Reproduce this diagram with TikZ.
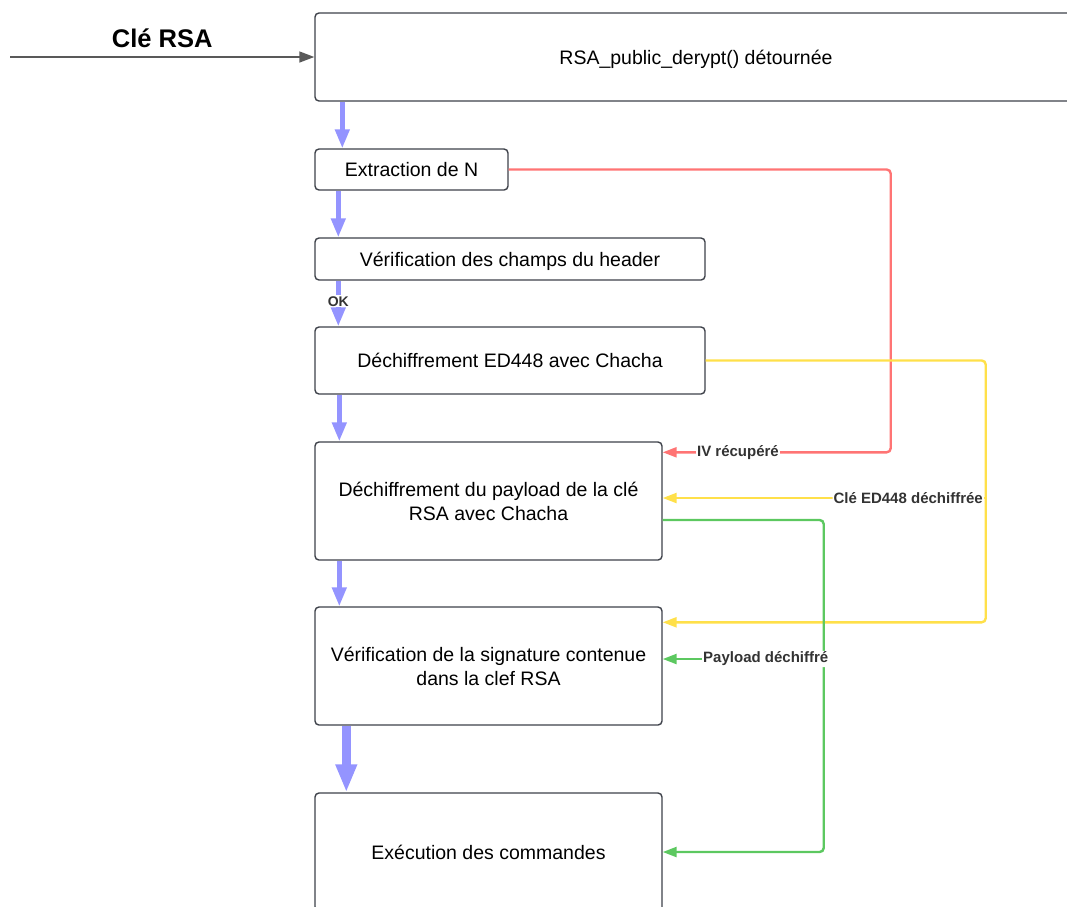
\documentclass[tikz,border=0pt]{standalone}
\usepackage{fontspec}
\setmainfont{Liberation Sans}
\usetikzlibrary{arrows.meta,positioning,calc}
\definecolor{flow}{HTML}{9494FF}
\definecolor{ivred}{HTML}{FF7474}
\definecolor{keyyel}{HTML}{FFE04A}
\definecolor{paygreen}{HTML}{5CC860}
\definecolor{edge}{HTML}{3E424A}
\definecolor{lbl}{HTML}{333333}

\begin{document}
\begin{tikzpicture}[x=1pt, y=-1pt,
  b/.style={rectangle, rounded corners=4pt, draw=edge, line width=1.4pt, fill=white, align=center, inner sep=0pt, text depth=0pt, font=\fontsize{19.5}{24}\selectfont},
  fl/.style={-{Triangle[width=14pt,length=19pt]}, line width=4.5pt, flow},
  link/.style={-{Triangle[width=10pt,length=14pt]}, line width=2.4pt, rounded corners=4pt, #1},
  tag/.style={fill=white, inner sep=1pt, text=lbl, font=\bfseries\fontsize{15}{18}\selectfont}
]
  \useasboundingbox (0,0) rectangle (1067,906);
  % boxes
  \node[b, minimum width=762, minimum height=88] (rsa) at (696,57) {RSA\_public\_derypt() détournée};
  \node[b, minimum width=193, minimum height=41] (ext) at (411.5,169.5) {Extraction de N};
  \node[b, minimum width=390, minimum height=42] (hdr) at (510,259) {Vérification des champs du header};
  \node[b, minimum width=390, minimum height=67] (ed) at (510,360.5) {Déchiffrement ED448 avec Chacha};
  \node[b, minimum width=347, minimum height=118] (pay) at (488.5,501) {Déchiffrement du payload de la clé\\RSA avec Chacha};
  \node[b, minimum width=347, minimum height=118] (sig) at (488.5,666) {Vérification de la signature contenue\\dans la clef RSA};
  \node[b, minimum width=347, minimum height=118] (exe) at (488.5,852) {Exécution des commandes};
  % input
  \coordinate (src) at (10,57);
  \draw[-{Triangle[width=11pt,length=15pt]}, line width=1.5pt, black!65] (src) -- (rsa.west)
    node[midway, above=5pt, text=black, font=\bfseries\fontsize{25.5}{30}\selectfont] (key) {Clé RSA};
  % main flow
  \draw[fl] ([xshift=28pt]rsa.south west) -- ([xshift=28pt]ext.north west);
  \draw[fl] ([xshift=24pt]ext.south west) -- ([xshift=24pt]hdr.north west);
  \draw[fl] ([xshift=24pt]hdr.south west) -- ([xshift=24pt]ed.north west)
    node[pos=0.45, tag, font=\bfseries\fontsize{14}{16}\selectfont] (ok) {OK};
  \foreach \a/\b in {ed/pay,pay/sig}{\draw[fl] ([xshift=25pt]\a.south west) -- ([xshift=25pt]\b.north west);}
  \draw[-{Triangle[width=20pt,length=28pt]}, line width=8.5pt, flow] ([xshift=32pt]sig.south west) -- ([xshift=32pt]exe.north west);
  % IV
  \draw[link=ivred] (ext.east) -- ++(382,0) |- node[tag, pos=0.835] (iv) {IV récupéré} ([yshift=-11pt]pay.north east);
  % ED448 key
  \draw[link=keyyel] (ed.east) -- ++(280,0) coordinate (ytop) |- ([yshift=-16pt]sig.north east);
  \coordinate (ykey) at (ytop |- pay.east);
  \draw[link=keyyel] ([yshift=3pt]ykey) -- node[tag, pos=0.24] (edk) {Clé ED448 déchiffrée} ([yshift=3pt]pay.east);
  % payload
  \draw[link=paygreen] ([yshift=-19pt]pay.east) -- ++(161,0) coordinate (gtop) |- (exe.east);
  \coordinate (gkey) at (gtop |- sig.east);
  \draw[link=paygreen] ([yshift=7pt]gkey) -- node[tag, pos=0.36] (pl) {Payload déchiffré} ([yshift=7pt]sig.east);
\end{tikzpicture}
\end{document}
